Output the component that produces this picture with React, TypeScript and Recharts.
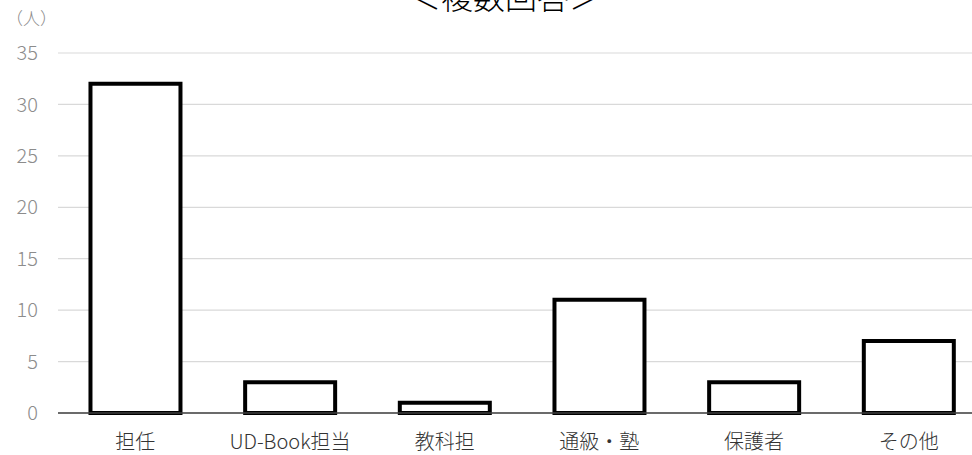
import { BarChart, Bar, XAxis, YAxis, CartesianGrid } from "recharts";

const categories = ["担任", "UD-Book担当", "教科担", "通級・塾", "保護者", "その他"];
const counts = [32, 3, 1, 11, 3, 7];
const yTicks = [0, 5, 10, 15, 20, 25, 30, 35];

const FONT = '"Noto Sans CJK JP", "Noto Sans", sans-serif';

export default function App() {
  const data = categories.map((name, i) => ({ name, count: counts[i] }));

  return (
    <div
      style={{
        position: "fixed",
        left: 0,
        top: 0,
        width: 972,
        height: 455,
        overflow: "hidden",
        background: "#fff",
        fontFamily: FONT,
      }}
    >
      {/* タイトル（上端で切れている） */}
      <div
        style={{
          position: "absolute",
          left: 405,
          width: 200,
          top: -28,
          textAlign: "center",
          fontSize: 32,
          lineHeight: "46px",
          fontWeight: 300,
          color: "#000",
          whiteSpace: "nowrap",
        }}
      >
        ＜複数回答＞
      </div>
      <div
        style={{
          position: "absolute",
          left: 6,
          top: 5,
          fontSize: 17,
          fontWeight: 300,
          color: "#8c8c8c",
        }}
      >
        （人）
      </div>
      <BarChart
        width={990}
        height={455}
        data={data}
        margin={{ top: 53, right: 4, bottom: 0, left: 0 }}
        barCategoryGap="21%"
      >
        <CartesianGrid vertical={false} stroke="#d9d9d9" strokeWidth={1.2} />
        <XAxis
          dataKey="name"
          height={42}
          tickLine={false}
          axisLine={{ stroke: "#404040", strokeWidth: 1.5 }}
          tickMargin={16}
          tick={{ fontSize: 20, fill: "#333", fontWeight: 300, fontFamily: FONT }}
          interval={0}
        />
        <YAxis
          width={58}
          domain={[0, 35]}
          ticks={yTicks}
          tickLine={false}
          axisLine={false}
          tickMargin={14}
          tick={{ fontSize: 20, fill: "#8c8c8c", fontWeight: 300, fontFamily: FONT }}
        />
        <Bar
          dataKey="count"
          fill="#fff"
          stroke="#000"
          strokeWidth={4}
          isAnimationActive={false}
        />
      </BarChart>
    </div>
  );
}
